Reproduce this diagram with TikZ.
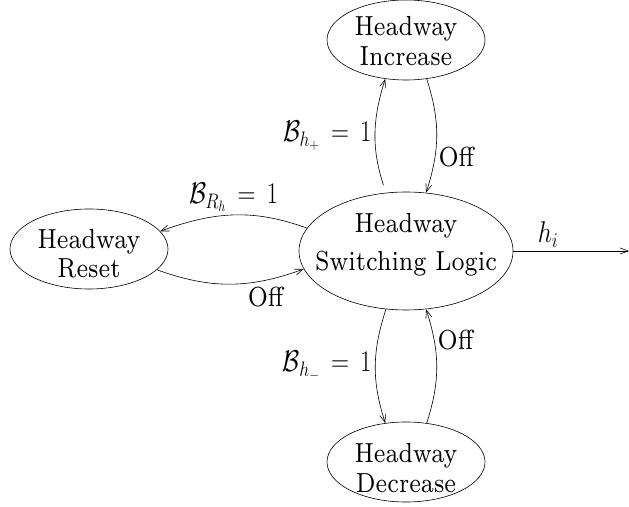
\documentclass[tikz,border=0pt]{standalone}
\usepackage{fix-cm}
\usepackage{graphicx}
\usepackage{fontspec}
\newfontfamily\figfont{lmroman7-regular.otf}
\usetikzlibrary{shapes.geometric}
\usetikzlibrary{arrows.meta}
\usetikzlibrary{positioning}

% text in the figure is drawn a bit taller than wide
\newcommand\tallbox[1]{\scalebox{1}[1.2]{#1}}
\newcommand\twoline[3][0pt]{\tallbox{\begin{tabular}{@{}c@{}}#2\\[#1]#3\end{tabular}}}

\tikzset{
  state/.style={draw, ellipse, inner sep=0pt,
    minimum width=158pt, minimum height=80pt},
  txt/.style={inner sep=0pt},
  big/.style={font=\figfont\fontsize{23}{24}\selectfont},
  mlab/.style={font=\fontsize{25}{30}\selectfont},
  trans/.style={-{Straight Barb[length=8pt,width=6pt]}},
}

\begin{document}
\begin{tikzpicture}[x=1pt, y=1pt, line width=0.6pt, big]
\useasboundingbox (0,0) rectangle (629,506);
% states
\node[state, label={[txt, yshift=-5pt]center:\twoline[1pt]{Headway}{Increase}}] (inc) at (406,466) {};
\node[state, minimum width=214pt, minimum height=118pt,
  label={[txt, yshift=5pt]center:\twoline[8pt]{Headway}{Switching Logic}}] (sw) at (406,255) {};
\node[state, label={[txt, yshift=-8pt]center:\twoline{Headway}{Reset}}] (rst) at (89,257) {};
\node[state, label={[txt, yshift=-10pt]center:\twoline[1pt]{Headway}{Decrease}}] (dec) at (406,44) {};
\coordinate (out) at (629,255);
% transitions
\draw[trans, shorten <=8pt] (sw.109) to[out=108,in=-108]
  node[left, mlab] {\tallbox{$\mathcal{B}_{h_+}\,=\,1$}} (inc.-118);
\draw[trans] (inc.-62) to[out=-72,in=72] node[pos=0.7,right] {\tallbox{Off}} (sw.71);
\draw[trans] (sw.167) to[out=160,in=20]
  node[pos=0.5,above, mlab] {\tallbox{$\mathcal{B}_{R_h}\,=\,1$}} (rst.14);
\draw[trans] (rst.-17) to[out=-20,in=200] node[pos=0.75,below=3pt] {\tallbox{Off}} (sw.190);
\draw[trans] (sw.-109) to[out=-108,in=108]
  node[left, mlab] {\tallbox{$\mathcal{B}_{h_-}\,=\,1$}} (dec.118);
\draw[trans] (dec.62) to[out=72,in=-72] node[pos=0.74,right] {\tallbox{Off}} (sw.-71);
\draw[trans] (sw.east) -- node[pos=0.3,above, mlab] {\tallbox{$h_i$}} (out);
\end{tikzpicture}
\end{document}
